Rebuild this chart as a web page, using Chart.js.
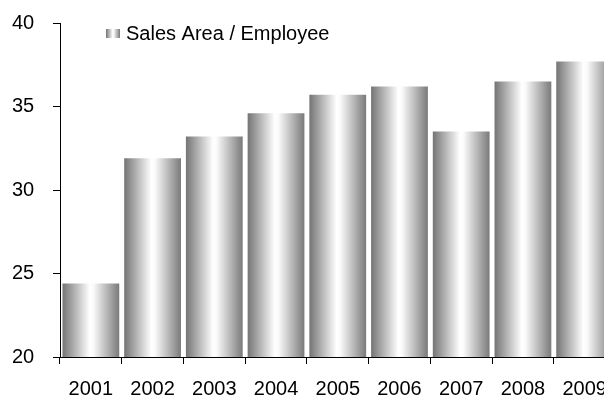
<!DOCTYPE html>
<html>
<head>
<meta charset="utf-8">
<script src="https://cdn.jsdelivr.net/npm/chart.js@4/dist/chart.umd.min.js"></script>
<style>
  html, body { margin: 0; padding: 0; background: #fff; overflow: hidden; }
  #wrap { position: relative; width: 620px; height: 416px; }
</style>
</head>
<body>
<div id="wrap"><canvas id="chart"></canvas></div>
<script>
// Data
const years = ['2001', '2002', '2003', '2004', '2005', '2006', '2007', '2008', '2009'];
const salesAreaPerEmployee = [24.4, 31.9, 33.2, 34.6, 35.7, 36.2, 33.5, 36.5, 37.7];
const yTicks = [20, 25, 30, 35, 40];
const seriesLabel = 'Sales Area / Employee';

const FONT = { family: '"Liberation Sans", Arial, sans-serif', size: 20 };
const BAR_PCT = 0.92;

// grey -> white -> grey metallic fill across a horizontal span
function barGradient(ctx, x0, x1) {
  const g = ctx.createLinearGradient(x0, 0, x1, 0);
  g.addColorStop(0.00, '#747474');
  g.addColorStop(0.48, '#ffffff');
  g.addColorStop(0.54, '#fbfbfb');
  g.addColorStop(1.00, '#7a7a7a');
  return g;
}

// legend drawn inside the plot, top-left
const insideLegend = {
  id: 'insideLegend',
  afterDraw(chart) {
    const ctx = chart.ctx;
    const x = 106, y = 29, w = 14, h = 9;
    ctx.save();
    ctx.fillStyle = barGradient(ctx, x, x + w);
    ctx.fillRect(x, y, w, h);
    ctx.fillStyle = '#000';
    ctx.font = FONT.size + 'px ' + FONT.family;
    ctx.textBaseline = 'middle';
    ctx.textAlign = 'left';
    ctx.fillText(seriesLabel, 126, y + h / 2 + 1);
    ctx.restore();
  }
};

const chart = new Chart(document.getElementById('chart'), {
  type: 'bar',
  data: {
    labels: years,
    datasets: [{
      label: seriesLabel,
      data: salesAreaPerEmployee,
      borderWidth: 0,
      barPercentage: BAR_PCT,
      categoryPercentage: 1,
      backgroundColor(c) {
        const ch = c.chart;
        const xs = ch.scales.x;
        if (!xs || c.type !== 'data') return '#aaaaaa';
        const bw = xs.width / years.length * BAR_PCT;
        const cx = xs.getPixelForValue(c.dataIndex);
        if (!Number.isFinite(bw) || !Number.isFinite(cx) || bw <= 0) return '#aaaaaa';
        return barGradient(ch.ctx, cx - bw / 2, cx + bw / 2);
      }
    }]
  },
  options: {
    responsive: true,
    maintainAspectRatio: false,
    animation: false,
    layout: { padding: { left: 12, top: 23, right: 2, bottom: 2 } },
    plugins: { legend: { display: false }, tooltip: { enabled: false } },
    scales: {
      x: {
        grid: { offset: true, drawOnChartArea: false, tickLength: 7, color: '#000' },
        border: { color: '#000' },
        ticks: { color: '#000', font: FONT, padding: 13, maxRotation: 0 }
      },
      y: {
        min: 20,
        max: 40,
        afterBuildTicks(scale) { scale.ticks = yTicks.map(v => ({ value: v })); },
        afterFit(scale) { scale.width = 48; },
        grid: { drawOnChartArea: false, tickLength: 7, color: '#000' },
        border: { color: '#000' },
        // labels sit flush with the left edge of the axis box
        ticks: { color: '#000', font: FONT, padding: 0, crossAlign: 'far' }
      }
    }
  },
  plugins: [insideLegend]
});
// second pass once the scales have their pixel sizes
chart.update();
</script>
</body>
</html>
